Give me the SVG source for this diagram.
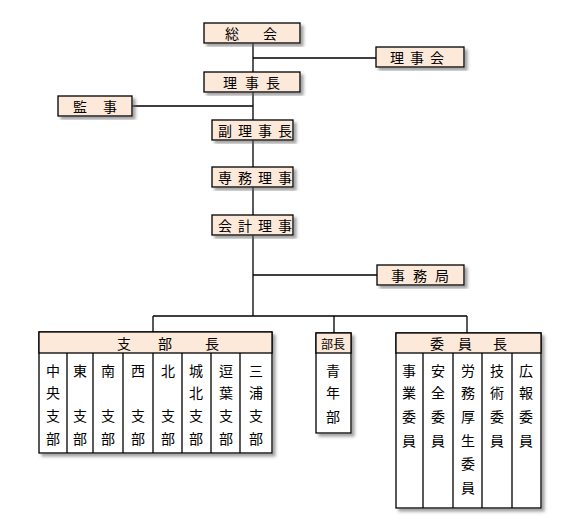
<svg xmlns="http://www.w3.org/2000/svg" width="580" height="530" viewBox="0 0 580 530">
<defs>
<filter id="sh" x="-10%" y="-10%" width="130%" height="130%">
<feDropShadow dx="3" dy="3" stdDeviation="1.5" flood-color="#666" flood-opacity="0.6"/>
</filter>
</defs>
<style>
.b{fill:#FDE9D9;stroke:#000;stroke-width:1.3;filter:url(#sh)}
.w{fill:#fff;stroke:#000;stroke-width:1.3;filter:url(#sh)}
.l{stroke:#000;stroke-width:1.3;fill:none}
text{font-family:"Noto Sans CJK JP","Noto Sans CJK SC",sans-serif;font-size:14px;fill:#000;text-anchor:middle;dominant-baseline:central}
</style>
<rect width="580" height="530" fill="#fff"/>
<g id="connectors">
<path class="l" d="M253 43V316M253 58H376M132 106H253M253 275H377M153 316H467M153 316V332M334 316V333M467 316V333"/>
</g>
<g id="soukai"><rect class="b" x="204" y="23" width="96" height="20"/><text x="232 270" y="33">総会</text></g>
<g id="rijikai"><rect class="b" x="376" y="47" width="88" height="20"/><text x="397 417 437" y="57">理事会</text></g>
<g id="rijichou"><rect class="b" x="204" y="72" width="96" height="20"/><text x="230 252 273" y="82">理事長</text></g>
<g id="kanji"><rect class="b" x="58" y="96" width="74" height="20"/><text x="80 110" y="106">監事</text></g>
<g id="fukurijichou"><rect class="b" x="212" y="120" width="81" height="20"/><text x="225 245 265 285" y="130">副理事長</text></g>
<g id="senmuriji"><rect class="b" x="212" y="167" width="81" height="20"/><text x="225 245 265 285" y="177">専務理事</text></g>
<g id="kaikeiriji"><rect class="b" x="212" y="215" width="81" height="20"/><text x="225 245 265 285" y="225">会計理事</text></g>
<g id="jimukyoku"><rect class="b" x="377" y="265" width="87" height="20"/><text x="398 420 442" y="275">事務局</text></g>
<g id="shibuchou">
<rect class="w" x="39" y="332" width="233" height="121"/>
<rect fill="#FDE9D9" stroke="#000" stroke-width="1.3" x="39" y="332" width="233" height="21"/>
<text x="124 165 212" y="343">支部長</text>
<path class="l" d="M67 353V453M93 353V453M123 353V453M153 353V453M182 353V453M211 353V453M240 353V453"/>
<text x="53 53 53 53" y="370 392 415 438">中央支部</text>
<text x="80" y="370">東</text><text x="80 80" y="415 438">支部</text>
<text x="108" y="370">南</text><text x="108 108" y="415 438">支部</text>
<text x="138" y="370">西</text><text x="138 138" y="415 438">支部</text>
<text x="168" y="370">北</text><text x="168 168" y="415 438">支部</text>
<text x="196 196 196 196" y="370 392 415 438">城北支部</text>
<text x="226 226 226 226" y="370 392 415 438">逗葉支部</text>
<text x="256 256 256 256" y="370 392 415 438">三浦支部</text>
</g>
<g id="seinenbu">
<rect class="w" x="316" y="333" width="35" height="100"/>
<rect fill="#FDE9D9" stroke="#000" stroke-width="1.3" x="316" y="333" width="35" height="20"/>
<text x="333" y="343" style="font-size:12px">部長</text>
<text x="333 333 333" y="370 392 416">青年部</text>
</g>
<g id="iinchou">
<rect class="w" x="396" y="333" width="145" height="175"/>
<rect fill="#FDE9D9" stroke="#000" stroke-width="1.3" x="396" y="333" width="145" height="20"/>
<text x="437 465 500" y="343">委員長</text>
<path class="l" d="M423 353V508M453 353V508M482 353V508M512 353V508"/>
<text x="409 409 409 409" y="370 392 416 440">事業委員</text>
<text x="438 438 438 438" y="370 392 416 440">安全委員</text>
<text x="468 468 468 468 468 468" y="370 392 416 440 463 487">労務厚生委員</text>
<text x="497 497 497 497" y="370 392 416 440">技術委員</text>
<text x="526 526 526 526" y="370 392 416 440">広報委員</text>
</g>
</svg>
